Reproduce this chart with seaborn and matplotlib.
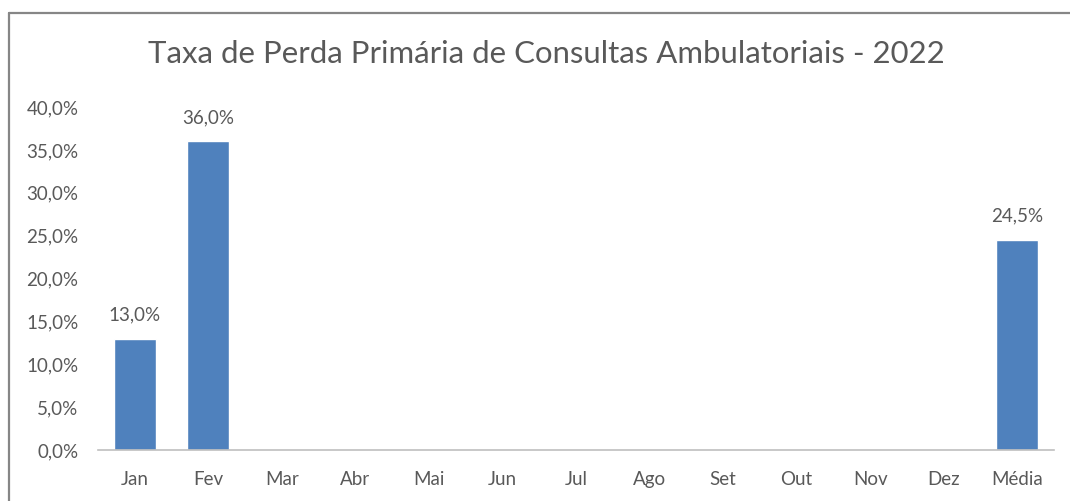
import numpy as np
import pandas as pd
import seaborn as sns
import matplotlib.pyplot as plt
from matplotlib.lines import Line2D

meses = ["Jan", "Fev", "Mar", "Abr", "Mai", "Jun", "Jul", "Ago", "Set", "Out", "Nov", "Dez", "Média"]
taxa = [13.0, 36.0, np.nan, np.nan, np.nan, np.nan, np.nan, np.nan, np.nan, np.nan, np.nan, np.nan, 24.5]
y_ticks = [0, 5, 10, 15, 20, 25, 30, 35, 40]

df = pd.DataFrame({"Mes": meses, "Taxa": taxa})

sns.set_style("white")
plt.rcParams["font.family"] = ["Lato", "DejaVu Sans"]

cinza = "#595959"
fig = plt.figure(figsize=(10.7, 5.01), dpi=100)
ax = fig.add_axes([0.0916, 0.1018, 0.8934, 0.6846])

sns.barplot(data=df, x="Mes", y="Taxa", order=meses, color="#4F81BD",
            saturation=1, width=0.57, ax=ax)

for i, v in enumerate(taxa):
    if not np.isnan(v):
        ax.text(i, v + 1.8, f"{v:.1f}%".replace(".", ","), ha="center", va="bottom",
                fontsize=13.5, color=cinza)

ax.set_ylim(0, 40)
ax.set_xlim(-0.5, len(meses) - 0.5)
ax.set_yticks(y_ticks)
ax.set_yticklabels([f"{t:.1f}%".replace(".", ",") for t in y_ticks])
ax.set_xlabel("")
ax.set_ylabel("")
ax.tick_params(axis="both", length=0, labelsize=13.5, colors=cinza)
ax.tick_params(axis="x", pad=15)
ax.tick_params(axis="y", pad=14)
for s in ["top", "right", "left"]:
    ax.spines[s].set_visible(False)
ax.spines["bottom"].set_color("#BFBFBF")
ax.spines["bottom"].set_linewidth(1.2)

fig.text(0.511, 0.893, "Taxa de Perda Primária de Consultas Ambulatoriais - 2022",
         ha="center", va="center", fontsize=22.4, color=cinza)

# moldura do gráfico (só esquerda e topo aparecem no recorte)
fig.add_artist(Line2D([8.5 / 1070, 8.5 / 1070], [0, 1 - 12.5 / 501], color="#868686", lw=1.6))
fig.add_artist(Line2D([8.5 / 1070, 1], [1 - 12.5 / 501, 1 - 12.5 / 501], color="#868686", lw=1.6))

fig.savefig("out.png", dpi=100)
